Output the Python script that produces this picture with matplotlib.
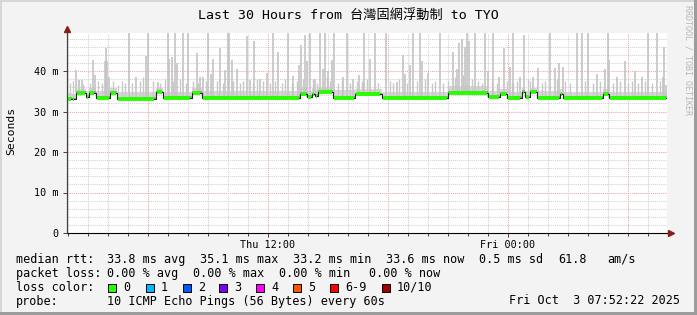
import numpy as np
import matplotlib
matplotlib.use("Agg")
import matplotlib.pyplot as plt
from matplotlib.lines import Line2D
from matplotlib.patches import Rectangle

W, H = 697, 315
MONO = "DejaVu Sans Mono"

# median rtt (ms) as steps: start hour (from left edge) and level
med_start = [0.0, 0.25, 0.43, 0.95, 1.1, 1.43, 2.15, 2.5, 4.43, 4.8, 6.23, 6.73,
             11.65, 12.0, 12.25, 12.4, 12.55, 13.3, 14.4, 15.73, 19.05, 21.05,
             21.65, 22.0, 22.73, 22.9, 23.15, 23.5, 24.65, 24.8, 26.8, 27.1]
med_ms = [33.1, 33.0, 34.6, 33.6, 34.6, 33.4, 34.6, 33.2, 34.7, 33.3, 34.6, 33.4,
          34.3, 33.6, 34.2, 33.8, 34.8, 33.4, 34.2, 33.3, 34.6, 33.5,
          34.3, 33.3, 34.8, 33.5, 34.8, 33.4, 34.2, 33.3, 34.3, 33.3]
# upper edge of the dense smoke above the median, per step
smoke_hi = [1.4, 1.3, 1.0, 1.5, 1.1, 1.6, 1.1, 1.5, 1.0, 1.4, 1.1, 1.6,
            1.8, 1.5, 1.6, 1.5, 1.3, 1.8, 1.4, 1.5, 1.7, 1.5,
            1.3, 1.6, 1.1, 1.5, 1.1, 1.6, 1.3, 1.5, 1.2, 1.6]

# tall smoke spikes: hour and top (ms)
spike_h = [0.45, 0.6, 0.73, 1.32, 1.42, 1.9, 1.95, 2.0, 2.1, 3.1, 3.45, 3.93, 4.07,
           4.55, 5.07, 5.12, 5.23, 5.4, 5.52, 5.82, 6.07, 6.48, 6.65, 6.82, 7.07,
           7.18, 7.32, 7.65, 7.9, 8.03, 8.1, 8.23, 8.48, 9.02, 9.15, 9.37, 9.65,
           10.02, 10.28, 10.53, 11.07, 11.32, 11.62, 11.68, 11.9, 12.02, 12.15,
           12.4, 12.65, 12.78, 12.9, 13.07, 13.23, 13.35, 13.78, 13.98, 14.32,
           14.62, 14.85, 15.15, 15.4, 15.95, 16.48, 16.78, 16.9, 17.15, 17.32,
           17.65, 17.73, 18.07, 18.65, 19.28, 19.48, 19.62, 19.73, 19.9, 20.02,
           20.12, 20.4, 20.9, 21.07, 21.32, 21.62, 21.87, 22.15, 22.32, 22.65,
           22.85, 23.28, 23.57, 24.15, 24.4, 24.62, 24.78, 25.48, 25.73, 26.07,
           26.52, 26.9, 27.07, 27.12, 27.48, 27.9, 28.4, 28.73, 29.07, 29.48,
           29.78, 29.85, 29.93]
spike_ms = [40.3, 37.9, 37.9, 42.8, 39.0, 42.4, 45.7, 42.4, 38.5, 50, 38.5, 43.6, 50,
            37.3, 50, 43.0, 43.5, 50, 42.0, 50, 50, 44.5, 38.5, 38.5, 50,
            39.3, 43.0, 45.7, 40.3, 50, 50, 42.6, 40.5, 48.6, 37.9, 47.4, 38.0,
            39.5, 50, 44.7, 50, 38.8, 41.6, 46.5, 49.0, 42.4, 50,
            38.0, 50, 40.5, 50, 40.0, 42.6, 50, 38.5, 50, 38.0,
            39.0, 50, 43.0, 50, 50, 37.3, 44.0, 39.3, 41.5, 50,
            50, 42.4, 39.5, 50, 44.8, 40.5, 47.0, 48.0, 46.0, 50,
            47.4, 50, 50, 40.0, 50, 38.5, 45.7, 41.0, 50, 38.5,
            49.0, 38.5, 40.7, 50, 40.8, 42.0, 41.0, 50, 50, 50,
            39.3, 40.5, 50, 42.6, 38.5, 42.4, 40.0, 38.5, 50, 50,
            38.5, 46.0, 36.5]

# short smoke spikes near the baseline
small_h = [0.15, 0.32, 0.57, 0.82, 1.15, 1.57, 1.73, 2.32, 2.57, 2.73, 2.9, 3.23,
           3.65, 3.82, 4.32, 4.65, 4.9, 5.32, 5.65, 5.95, 6.32, 6.57, 6.95,
           7.48, 7.78, 8.32, 8.65, 8.82, 9.28, 9.48, 9.82, 10.15, 10.4, 10.73,
           10.9, 11.23, 11.48, 11.82, 12.32, 12.48, 12.98, 13.15, 13.57, 13.73,
           14.15, 14.48, 14.82, 14.73, 14.98, 15.57, 16.15, 16.32, 16.62, 16.98,
           17.48, 17.9, 18.23, 18.4, 18.82, 19.07, 19.4, 19.82, 20.23, 20.57,
           20.73, 21.23, 21.48, 21.98, 22.23, 22.32, 22.48, 23.07, 23.15, 23.73,
           23.9, 24.48, 24.9, 25.15, 25.9, 26.32, 26.65, 27.32, 27.65, 28.07,
           28.23, 28.57, 28.9, 29.23, 29.65]
small_ms = [37.0, 37.5, 38.0, 36.8, 37.0, 37.5, 37.0, 37.5, 36.5, 37.5, 37.0, 37.0,
            37.5, 38.5, 37.5, 37.0, 38.0, 37.5, 38.0, 37.0, 37.5, 37.0, 37.5,
            37.5, 37.0, 37.5, 37.0, 37.5, 37.0, 38.0, 37.5, 37.0, 37.5, 37.0,
            38.0, 37.0, 37.5, 38.0, 38.0, 37.0, 38.5, 37.5, 37.0, 37.5,
            37.0, 37.5, 37.0, 37.5, 38.0, 37.0, 37.5, 37.0, 38.0, 37.0,
            37.5, 38.0, 37.0, 37.5, 37.0, 37.5, 38.5, 39.0, 38.0, 37.5,
            37.0, 37.5, 37.0, 37.5, 37.0, 37.0, 37.5, 38.0, 37.5, 37.0,
            37.5, 38.0, 37.5, 37.0, 37.5, 37.0, 37.5, 37.0, 37.5, 37.0,
            37.5, 37.0, 37.5, 37.0, 37.5]

yticks = [0, 10, 20, 30, 40]
ytick_labels = ["0", "10 m", "20 m", "30 m", "40 m"]
start_hod = 1.95          # hour of day at the left edge (Thu)
xlabel_hod = [12, 24]
xlabel_text = ["Thu 12:00", "Fri 00:00"]

title = "Last 30 Hours from 台灣固網浮動制 to TYO"
loss_labels = ["0", "1", "2", "3", "4", "5", "6-9", "10/10"]
loss_colors = ["#26ff00", "#00b8ff", "#0059ff", "#7e00ff", "#ff00ff", "#ff5500", "#ff0000", "#a10000"]
rtt_parts = ["33.8 ms avg", "35.1 ms max", "33.2 ms min", "33.6 ms now", "0.5 ms sd", "61.8", "am/s"]
loss_parts = ["0.00 % avg", "0.00 % max", "0.00 % min", "0.00 % now"]
probe_text = "10 ICMP Echo Pings (56 Bytes) every 60s"
stamp = "Fri Oct  3 07:52:22 2025"


def fx(x):
    return x / W


def fy(y):
    return 1 - y / H


def med_at(h):
    idx = np.searchsorted(med_start, h, side="right") - 1
    return np.array(med_ms)[idx]


fig = plt.figure(figsize=(W / 100, H / 100), dpi=100, facecolor="#f3f3f3")

# border shading
fig.add_artist(Rectangle((0, fy(2)), 1, 2 / H, transform=fig.transFigure, color="#d6d6d6", lw=0))
fig.add_artist(Rectangle((0, 0), 2 / W, 1, transform=fig.transFigure, color="#d6d6d6", lw=0))
fig.add_artist(Rectangle((0, 0), 1, 3 / H, transform=fig.transFigure, color="#9c9c9c", lw=0))
fig.add_artist(Rectangle((fx(W - 3), 0), 3 / W, 1, transform=fig.transFigure, color="#9c9c9c", lw=0))

ax = fig.add_axes([fx(67), fy(233), 600 / W, 200 / H])
ax.set_facecolor("white")
ax.set_xlim(0, 30)
ax.set_ylim(0, 200 / 4.05)

dot = (0, (1, 1))
# horizontal grid
for v in np.arange(2, 50, 2):
    major = v % 10 == 0
    ax.axhline(v, color="#e8a8a8" if major else "#d0d0d0", lw=0.75, ls=dot, zorder=0)
# vertical grid, every hour
for k in range(2, 32):
    pos = k - start_hod
    major = k % 6 == 0
    ax.axvline(pos, color="#e8a8a8" if major else "#d0d0d0", lw=0.75, ls=dot, zorder=0)

edges = med_start + [30.0]
# smoke band
ax.fill_between(edges, med_ms + [med_ms[-1]],
                [m + s for m, s in zip(med_ms, smoke_hi)] + [med_ms[-1] + smoke_hi[-1]],
                step="post", color="#d6d6d6", lw=0, zorder=1)
ax.fill_between(edges, med_ms + [med_ms[-1]],
                [m + 0.45 for m in med_ms] + [med_ms[-1] + 0.45],
                step="post", color="#a0a0a0", lw=0, zorder=1.5)
# spikes
ax.vlines(small_h, med_at(small_h), small_ms, color="#c8c8c8", lw=1.0, zorder=1.1)
ax.vlines(spike_h, med_at(spike_h), spike_ms, color="#c4c4c4", lw=1.2, zorder=1.2)

# median: black steps, green segments
ax.step(edges, med_ms + [med_ms[-1]], where="post", color="#202020", lw=0.8, zorder=2)
ax.hlines(med_ms, [s + 0.06 for s in med_start], [e - 0.06 for e in edges[1:]],
          color=loss_colors[0], lw=2.8, zorder=3)

for s in ["top", "right"]:
    ax.spines[s].set_visible(False)
ax.spines["left"].set_color("#404040")
ax.spines["bottom"].set_color("#000000")
ax.spines["left"].set_linewidth(0.8)
ax.spines["bottom"].set_linewidth(0.8)

ax.set_yticks(yticks)
ax.set_yticklabels(ytick_labels, family=MONO, fontsize=7.3)
ax.set_xticks([h - start_hod for h in xlabel_hod])
ax.set_xticklabels(xlabel_text, family=MONO, fontsize=7.3)
ax.set_xticks([k - start_hod for k in range(2, 32)], minor=True)
ax.tick_params(axis="both", which="major", length=3, width=0.7, color="#404040", pad=3)
ax.tick_params(axis="x", which="minor", length=2, width=0.7, color="#404040")
ax.tick_params(axis="x", which="major", pad=2)

# axis arrows
fig.add_artist(Line2D([fx(67), fx(67)], [fy(233), fy(30)], transform=fig.transFigure, color="#404040", lw=0.8))
fig.add_artist(Line2D([fx(67)], [fy(29)], transform=fig.transFigure, marker="^", ms=5, color="#8b1a1a", lw=0))
fig.add_artist(Line2D([fx(667), fx(669)], [fy(233), fy(233)], transform=fig.transFigure, color="#000000", lw=0.8))
fig.add_artist(Line2D([fx(671)], [fy(233)], transform=fig.transFigure, marker=">", ms=5, color="#8b1a1a", lw=0))

fig.text(fx(11), fy(131), "Seconds", rotation=90, ha="center", va="center", family=MONO, fontsize=8.2)
fig.text(fx(348), fy(15), title, ha="center", va="center",
         family=[MONO, "Noto Sans CJK TC"], fontsize=9.5)
fig.text(fx(688), fy(60), "RRDTOOL / TOBI OETIKER", rotation=270, ha="center", va="center",
         family=MONO, fontsize=6.0, color="#b8b8b8")

LS = 8.5
fig.text(fx(16), fy(259.3), "median rtt:", family=MONO, fontsize=LS, va="center")
for t, x in zip(rtt_parts, [107.3, 200, 293.3, 386, 479.3, 558.3, 607.3]):
    fig.text(fx(x), fy(259.3), t, family=MONO, fontsize=LS, va="center")
fig.text(fx(16), fy(273.3), "packet loss:", family=MONO, fontsize=LS, va="center")
for t, x in zip(loss_parts, [107.3, 193.3, 279.3, 369]):
    fig.text(fx(x), fy(273.3), t, family=MONO, fontsize=LS, va="center")
fig.text(fx(16), fy(287.3), "loss color:", family=MONO, fontsize=LS, va="center")
for lab, col, x in zip(loss_labels, loss_colors, [108.3, 145.7, 182.7, 219.3, 256, 293.3, 330, 381.7]):
    fig.add_artist(Rectangle((fx(x), fy(291.5)), 8 / W, 8 / H, transform=fig.transFigure,
                             facecolor=col, edgecolor="black", lw=0.7))
    fig.text(fx(x + 15), fy(287.3), lab, family=MONO, fontsize=LS, va="center")
fig.text(fx(16), fy(301), "probe:", family=MONO, fontsize=LS, va="center")
fig.text(fx(107.3), fy(301), probe_text, family=MONO, fontsize=LS, va="center")
fig.text(fx(680), fy(301), stamp, family=MONO, fontsize=LS, va="center", ha="right")

fig.savefig("out.png", dpi=100, facecolor=fig.get_facecolor())
